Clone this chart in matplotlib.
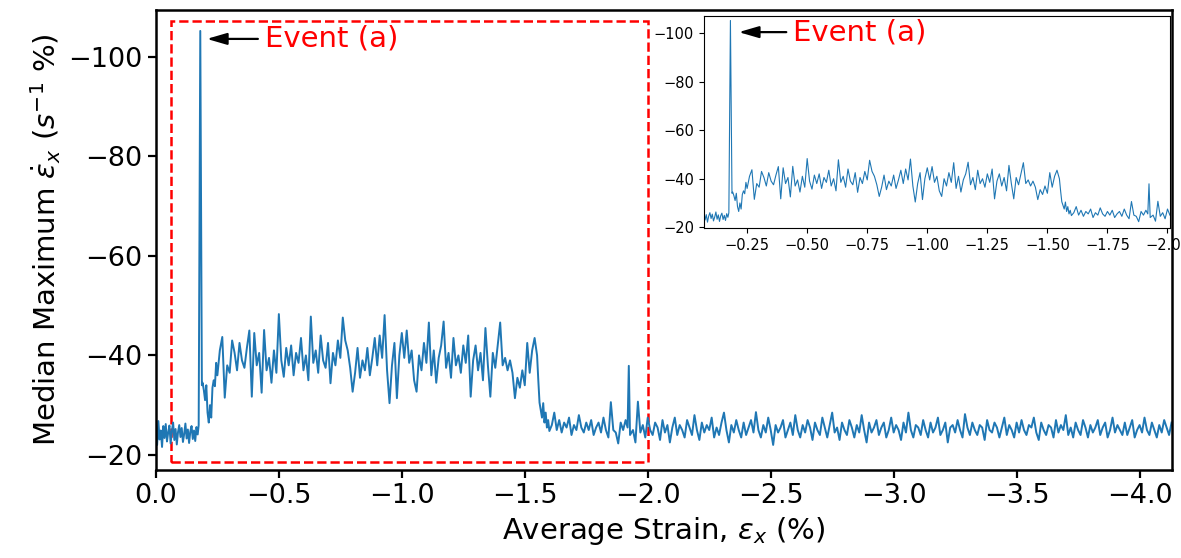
import numpy as np
import matplotlib
matplotlib.use('Agg')
import matplotlib.pyplot as plt
from matplotlib.patches import Rectangle

# segments of the trace: (start strain, end strain, values)
pre_start, pre_end = 0.0, -0.17
pre_vals = [-25.5, -22.0, -26.8, -23.1, -24.9, -21.6, -25.8, -23.4, -26.2, -22.7,
            -24.5, -25.9, -22.3, -24.8, -26.5, -23.0, -25.2, -22.1, -24.6, -26.0,
            -23.6, -25.4, -22.6, -24.2, -26.3, -23.3, -25.1, -22.4, -24.7, -25.8,
            -23.2, -24.9, -22.8, -25.6, -24.1]

spike_start, spike_end = -0.174, -0.187
spike_vals = [-26.0, -105.2, -34.0]

dip_start, dip_end = -0.19, -0.25
dip_vals = [-34.5, -33.0, -31.0, -34.0, -28.5, -26.5, -30.0, -27.5, -33.5, -35.0,
            -33.8, -38.5, -36.0]

plat_start, plat_end = -0.26, -1.55
plat_vals = [-41.0, -43.7, -31.5, -38.0, -36.5, -43.0, -40.5, -37.0, -42.5, -39.0,
             -37.5, -41.5, -45.0, -31.7, -44.5, -38.0, -40.5, -32.5, -45.1, -37.0,
             -39.5, -34.5, -41.0, -36.5, -48.3, -39.0, -35.7, -41.5, -38.0, -42.0,
             -36.0, -40.5, -38.5, -43.5, -37.0, -40.0, -35.0, -47.8, -38.5, -41.0,
             -36.5, -44.0, -39.0, -37.5, -42.5, -34.4, -40.5, -38.0, -43.0, -39.5,
             -47.6, -43.0, -41.0, -37.5, -32.7, -36.5, -41.5, -35.5, -39.0, -37.0,
             -41.5, -36.0, -39.5, -43.5, -38.0, -44.0, -39.5, -48.1, -37.0, -30.4,
             -38.0, -42.5, -31.4, -40.0, -44.5, -39.5, -45.0, -38.5, -41.0, -35.0,
             -32.7, -40.0, -37.0, -42.5, -38.5, -46.6, -36.0, -41.0, -34.5, -39.5,
             -42.0, -46.8, -37.5, -40.5, -35.5, -43.5, -38.0, -40.0, -36.5, -42.0,
             -38.5, -44.0, -31.7, -39.0, -42.0, -37.0, -40.5, -35.0, -45.5, -38.0,
             -31.7, -40.5, -37.5, -42.0, -46.6, -38.0, -39.5, -37.0, -39.0, -36.5,
             -31.4, -35.5, -33.5, -37.0, -34.0, -42.5, -36.5, -41.0, -43.5, -40.0]

drop_start, drop_end = -1.555, -1.60
drop_vals = [-35.0, -30.5, -29.0, -27.5, -30.4, -26.5, -28.5, -25.5, -27.0, -24.8]

base1_start, base1_end = -1.61, -1.91
base1_vals = [-26.0, -28.5, -25.0, -27.0, -24.5, -26.5, -25.5, -27.5, -24.0, -26.0,
              -25.0, -28.0, -25.5, -24.5, -26.5, -25.0, -27.0, -24.0, -25.5, -26.5,
              -24.5, -27.5, -25.0, -23.5, -30.6, -25.0, -24.5, -22.3, -26.5, -25.0,
              -27.0]

spike2_start, spike2_end = -1.918, -1.928
spike2_vals = [-25.5, -37.9, -24.0]

base2_start, base2_end = -1.94, -4.13
base2_vals = [-25.0, -22.5, -30.7, -24.5, -26.0, -23.5, -27.5, -25.0, -24.0, -26.5,
              -25.5, -23.0, -27.0, -24.5, -26.0, -22.5, -25.5, -27.5, -24.0, -26.0,
              -25.0, -23.5, -27.0, -25.5, -24.0, -28.0, -25.0, -23.0, -26.5, -24.5,
              -26.0, -25.0, -27.5, -23.5, -25.5, -24.0, -26.5, -28.5, -25.0, -22.5,
              -26.0, -24.5, -27.0, -25.0, -23.5, -26.5, -24.0, -25.5, -27.0, -24.5,
              -28.6, -25.0, -23.5, -26.0, -24.5, -27.5, -25.0, -22.0, -26.0, -24.5,
              -25.5, -27.0, -23.5, -25.0, -26.5, -24.0, -28.0, -25.0, -23.5, -26.0,
              -24.5, -27.0, -25.5, -23.0, -26.5, -25.0, -24.0, -27.5, -25.5, -23.5,
              -26.0, -28.5, -24.5, -25.5, -23.0, -26.5, -25.0, -24.0, -27.0, -25.5,
              -23.5, -26.0, -24.5, -28.0, -25.0, -22.5, -26.5, -24.5, -25.5, -27.0,
              -24.0, -25.5, -26.5, -23.5, -25.0, -27.5, -24.5, -26.0, -25.0, -23.0,
              -26.5, -24.5, -28.5, -25.0, -23.5, -26.0, -25.5, -24.0, -27.0, -25.0,
              -23.5, -26.5, -24.5, -25.5, -27.5, -24.0, -25.0, -26.5, -22.5, -25.5,
              -26.0, -24.5, -27.0, -25.0, -23.5, -28.2, -25.5, -24.0, -26.5, -25.0,
              -24.0, -26.0, -25.5, -23.0, -27.0, -25.0, -24.5, -26.5, -25.5, -23.5,
              -25.5, -27.5, -24.0, -26.0, -25.0, -23.5, -26.5, -24.5, -27.0, -25.0,
              -24.0, -26.0, -25.5, -27.5, -24.5, -23.0, -26.5, -25.0, -24.0, -26.0,
              -25.5, -23.5, -27.0, -24.5, -26.0, -25.0, -28.0, -24.0, -25.5, -23.5,
              -26.5, -25.0, -24.0, -27.0, -25.5, -23.5, -26.0, -24.5, -25.5, -27.0,
              -24.0, -25.5, -26.5, -23.5, -25.0, -27.5, -24.5, -26.0, -25.0, -24.0,
              -26.5, -24.0, -25.5, -27.0, -23.5, -25.0, -26.0, -24.5, -27.5, -25.0,
              -24.0, -26.5, -25.0, -23.5, -26.0, -24.5, -27.0, -25.5, -24.0, -26.5]

segments = [(pre_start, pre_end, pre_vals), (spike_start, spike_end, spike_vals),
            (dip_start, dip_end, dip_vals), (plat_start, plat_end, plat_vals),
            (drop_start, drop_end, drop_vals), (base1_start, base1_end, base1_vals),
            (spike2_start, spike2_end, spike2_vals), (base2_start, base2_end, base2_vals)]

strain = np.concatenate([np.linspace(a, b, len(v)) for a, b, v in segments])
rate = np.concatenate([np.array(v) for a, b, v in segments])

main_xticks = [0.0, -0.5, -1.0, -1.5, -2.0, -2.5, -3.0, -3.5, -4.0]
yticks = [-100, -80, -60, -40, -20]
inset_xticks = [-0.25, -0.5, -0.75, -1.0, -1.25, -1.5, -1.75, -2.0]

line_color = '#1f77b4'
arrow_style = '-|>,head_length=0.55,head_width=0.16'

fig = plt.figure(figsize=(11.81, 5.58), dpi=100)

# main axes
ax = fig.add_axes([0.132, 0.158, 0.860, 0.824])
ax.plot(strain, rate, color=line_color, lw=1.4)
ax.set_xlim(0.0, -4.13)
ax.set_ylim(-17.0, -109.4)
ax.set_xticks(main_xticks)
ax.set_yticks(yticks)
ax.tick_params(labelsize=19.5, length=6, width=1.6)
for s in ax.spines.values():
    s.set_linewidth(1.8)
ax.set_xlabel(r'Average Strain, $\varepsilon_x$ (%)', fontsize=21)
ax.set_ylabel(r'Median Maximum $\dot{\varepsilon}_x$ ($s^{-1}$ %)', fontsize=21)

ax.add_patch(Rectangle((-0.06, -18.6), -1.94, -88.5, fill=False,
                       edgecolor='red', linestyle='--', linewidth=1.8))
ax.annotate('Event (a)', xy=(-0.207, -103.6), xytext=(-0.443, -103.6),
            color='red', fontsize=21, va='center', ha='left',
            arrowprops=dict(arrowstyle=arrow_style, color='black', lw=1.6,
                            mutation_scale=22, shrinkA=3, shrinkB=0))

# inset zoom
axin = fig.add_axes([0.596, 0.591, 0.3946, 0.381])
axin.plot(strain, rate, color=line_color, lw=0.8)
axin.set_xlim(-0.07, -2.01)
axin.set_ylim(-19.6, -107.2)
axin.set_xticks(inset_xticks)
axin.set_yticks(yticks)
axin.tick_params(labelsize=10.5, length=3.5, width=0.8)
for s in axin.spines.values():
    s.set_linewidth(0.8)
axin.annotate('Event (a)', xy=(-0.215, -100.4), xytext=(-0.442, -100.4),
              color='red', fontsize=21, va='center', ha='left',
              arrowprops=dict(arrowstyle=arrow_style, color='black', lw=1.6,
                              mutation_scale=22, shrinkA=3, shrinkB=0))

fig.savefig('out.png', dpi=100)
